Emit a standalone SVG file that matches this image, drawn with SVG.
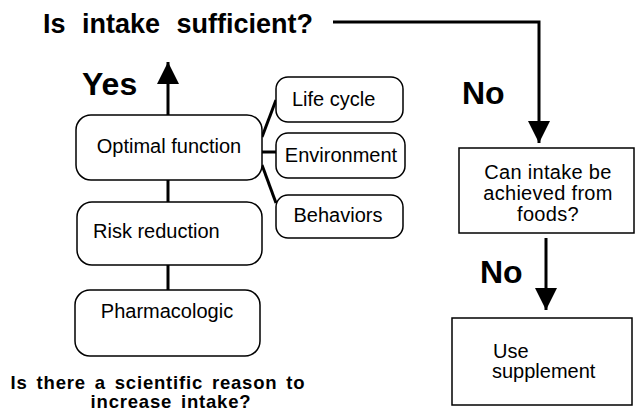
<svg xmlns="http://www.w3.org/2000/svg" width="635" height="414" viewBox="0 0 635 414">
<style>
  .box { fill: #fff; stroke: #000; stroke-width: 1.5; }
  .t { font-family: "Liberation Sans", Arial, sans-serif; font-size: 20px; fill: #000; }
  .big { font-family: "Liberation Sans", Arial, sans-serif; font-weight: bold; font-size: 32px; fill: #000; }
  .q { font-family: "Liberation Sans", Arial, sans-serif; font-weight: bold; fill: #000; }
  .c { fill: none; stroke: #000; stroke-width: 3; }
</style>
<defs>
  <marker id="ah" markerUnits="userSpaceOnUse" viewBox="0 0 22 22" markerWidth="22" markerHeight="22" refX="22" refY="11" orient="auto">
    <path d="M0,0 L22,11 L0,22 z" fill="#000"/>
  </marker>
</defs>
<rect width="635" height="414" fill="#fff"/>

<g id="connectors">
  <path class="c" d="M333,22 H539 V143" marker-end="url(#ah)"/>
  <path class="c" d="M168,115 V62" marker-end="url(#ah)"/>
  <path class="c" d="M546,238 V310" marker-end="url(#ah)"/>
  <line class="c" x1="168" y1="180" x2="168" y2="202"/>
  <line class="c" x1="168" y1="265" x2="168" y2="290"/>
  <line class="c" x1="262" y1="137" x2="276" y2="100"/>
  <line class="c" x1="262" y1="152" x2="276" y2="152"/>
  <line class="c" x1="262" y1="165" x2="276" y2="203"/>
</g>

<g id="title">
  <text class="q" x="43" y="33" font-size="27" word-spacing="9">Is intake sufficient?</text>
</g>
<g id="yes-label"><text class="big" x="82" y="95">Yes</text></g>
<g id="no-label-1"><text class="big" x="462" y="104">No</text></g>
<g id="no-label-2"><text class="big" x="480" y="283">No</text></g>

<g id="optimal">
  <rect class="box" x="76" y="115" width="186" height="65" rx="15"/>
  <text class="t" x="169" y="153" text-anchor="middle">Optimal function</text>
</g>
<g id="risk">
  <rect class="box" x="77" y="202" width="185" height="63" rx="15"/>
  <text class="t" x="93" y="238">Risk reduction</text>
</g>
<g id="pharma">
  <rect class="box" x="75" y="290" width="185" height="66" rx="15"/>
  <text class="t" x="167" y="318" text-anchor="middle">Pharmacologic</text>
</g>
<g id="lifecycle">
  <rect class="box" x="276" y="77" width="127" height="45" rx="12"/>
  <text class="t" x="292" y="106">Life cycle</text>
</g>
<g id="environment">
  <rect class="box" x="276" y="133" width="129" height="45" rx="12"/>
  <text class="t" x="341" y="162" text-anchor="middle">Environment</text>
</g>
<g id="behaviors">
  <rect class="box" x="276" y="195" width="127" height="43" rx="12"/>
  <text class="t" x="338" y="222" text-anchor="middle">Behaviors</text>
</g>
<g id="foods">
  <rect class="box" x="459" y="148" width="175" height="85"/>
  <text class="t" x="548" y="179" font-size="19" letter-spacing="0.3" text-anchor="middle">Can intake be</text>
  <text class="t" x="548" y="200" font-size="19" letter-spacing="0.3" text-anchor="middle">achieved from</text>
  <text class="t" x="548" y="221" font-size="19" letter-spacing="0.3" text-anchor="middle">foods?</text>
</g>
<g id="supplement">
  <rect class="box" x="452" y="318" width="180" height="87"/>
  <text class="t" x="493" y="358">Use</text>
  <text class="t" x="492" y="378">supplement</text>
</g>
<g id="question">
  <text class="q" x="158" y="389" font-size="18.5" letter-spacing="0.8" word-spacing="3" text-anchor="middle">Is there a scientific reason to</text>
  <text class="q" x="171" y="408" font-size="18.5" letter-spacing="0.8" word-spacing="3" text-anchor="middle">increase intake?</text>
</g>
</svg>
